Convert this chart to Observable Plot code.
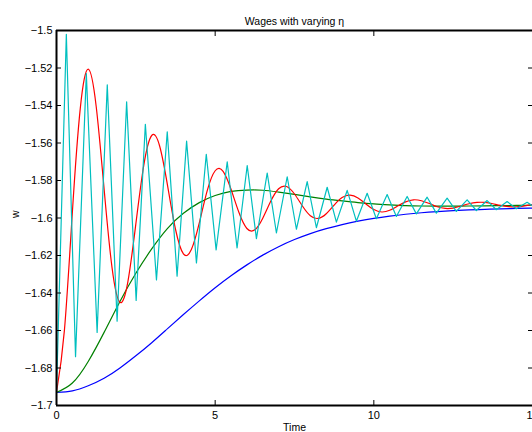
<!DOCTYPE html>
<html><head><meta charset="utf-8">
<script src="https://cdn.jsdelivr.net/npm/d3@7"></script>
<script src="https://cdn.jsdelivr.net/npm/@observablehq/plot@0.6"></script>
<style>body{margin:0;background:#fff;overflow:hidden} svg{display:block}</style>
</head><body><div id="chart"></div>
<script>
const title = "Wages with varying \u03b7";
const xLabel = "Time";
const yLabel = "w";
const xTicks = [0, 5, 10, 15];
const yTicks = [-1.5, -1.52, -1.54, -1.56, -1.58, -1.6, -1.62, -1.64, -1.66, -1.68, -1.7];
const yTickLabels = ["\u22121.5", "\u22121.52", "\u22121.54", "\u22121.56", "\u22121.58", "\u22121.6", "\u22121.62", "\u22121.64", "\u22121.66", "\u22121.68", "\u22121.7"];

// blue series
const blueT = [0,0.5,1,1.5,2,2.5,3,3.5,4,4.5,5,5.5,6,6.5,7,7.5,8,8.5,9,9.5,10,10.5,11,11.5,12,12.5,13,13.5,14,14.5,15];
const blueV = [-1.693,-1.6922,-1.6895,-1.6855,-1.680,-1.6735,-1.6665,-1.659,-1.6515,-1.6442,-1.6372,-1.6308,-1.625,-1.6198,-1.6153,-1.6115,-1.6083,-1.6057,-1.6035,-1.6017,-1.6002,-1.599,-1.598,-1.5972,-1.5966,-1.5961,-1.5957,-1.5954,-1.5951,-1.5949,-1.5947];

// green series
const greenT = [0,0.5,1,1.5,2,2.5,3,3.5,4,4.5,5,5.5,6,6.5,7,7.5,8,8.5,9,9.5,10,10.5,11,11.5,12,12.5,13,13.5,14,14.5,15];
const greenV = [-1.693,-1.688,-1.6765,-1.661,-1.6445,-1.6295,-1.6165,-1.6055,-1.5975,-1.5918,-1.588,-1.5858,-1.5851,-1.5852,-1.5862,-1.5874,-1.5887,-1.5899,-1.5909,-1.5918,-1.5925,-1.593,-1.5934,-1.5936,-1.5937,-1.5937,-1.5936,-1.5935,-1.5934,-1.5933,-1.5932];

// red series
const redT = [0,0.25,0.5,0.75,1,1.25,1.5,1.75,2,2.25,2.5,2.75,3,3.25,3.5,3.75,4,4.25,4.5,4.75,5,5.25,5.5,5.75,6,6.25,6.5,6.75,7,7.25,7.5,7.75,8,8.25,8.5,8.75,9,9.25,9.5,9.75,10,10.25,10.5,10.75,11,11.25,11.5,11.75,12,12.25,12.5,12.75,13,13.25,13.5,13.75,14,14.25,14.5,14.75,15];
const redV = [-1.693,-1.6598,-1.5969,-1.5414,-1.5206,-1.5404,-1.5845,-1.6265,-1.645,-1.6339,-1.6032,-1.5719,-1.556,-1.5616,-1.5827,-1.606,-1.6191,-1.6168,-1.6026,-1.5854,-1.5748,-1.5751,-1.5847,-1.5971,-1.6056,-1.6063,-1.6001,-1.5911,-1.5844,-1.5832,-1.5872,-1.5936,-1.5988,-1.6002,-1.5977,-1.5931,-1.5891,-1.5878,-1.5893,-1.5925,-1.5955,-1.5968,-1.5959,-1.5936,-1.5914,-1.5903,-1.5908,-1.5923,-1.594,-1.5949,-1.5947,-1.5936,-1.5924,-1.5917,-1.5917,-1.5924,-1.5933,-1.5939,-1.594,-1.5935,-1.5928];

// cyan series (vertices)
const cyanT = [0,0.31,0.6,0.94,1.28,1.6,1.91,2.21,2.51,2.8,3.15,3.49,3.8,4.1,4.41,4.72,5.03,5.38,5.69,6.01,6.3,6.64,6.93,7.27,7.56,7.9,8.19,8.53,8.82,9.16,9.45,9.79,10.08,10.42,10.71,11.05,11.34,11.68,11.97,12.31,12.6,12.94,13.23,13.57,13.86,14.2,14.49,14.83,15];
const cyanV = [-1.693,-1.502,-1.674,-1.523,-1.661,-1.529,-1.655,-1.538,-1.644,-1.550,-1.633,-1.554,-1.631,-1.559,-1.624,-1.566,-1.617,-1.570,-1.616,-1.572,-1.611,-1.576,-1.608,-1.578,-1.606,-1.5806,-1.6052,-1.5836,-1.6022,-1.5853,-1.6017,-1.5868,-1.6004,-1.5875,-1.5992,-1.5885,-1.5978,-1.5889,-1.5974,-1.5894,-1.5965,-1.5903,-1.596,-1.5907,-1.5956,-1.5912,-1.5951,-1.5916,-1.5935];

const seriesColors = {blue: "#0000ff", green: "#008000", red: "#ff0000", cyan: "#00bfbf"};

const rows = (T, V) => T.map((t, i) => ({t, v: V[i]}));
const font = "'Liberation Sans', Arial, Helvetica, sans-serif";

const chart = Plot.plot({
  width: 532,
  height: 432,
  marginLeft: 56,
  marginRight: 0,
  marginTop: 30,
  marginBottom: 27,
  style: {fontFamily: font, fontSize: "11px", background: "#fff", color: "#000"},
  x: {domain: [xTicks[0], xTicks[xTicks.length - 1]]},
  y: {domain: [yTicks[yTicks.length - 1], yTicks[0]]},
  marks: [
    Plot.line(rows(blueT, blueV), {x: "t", y: "v", stroke: seriesColors.blue, strokeWidth: 1.2, curve: "natural", clip: true}),
    Plot.line(rows(greenT, greenV), {x: "t", y: "v", stroke: seriesColors.green, strokeWidth: 1.2, curve: "natural", clip: true}),
    Plot.line(rows(redT, redV), {x: "t", y: "v", stroke: seriesColors.red, strokeWidth: 1.2, curve: "natural", clip: true}),
    Plot.line(rows(cyanT, cyanV), {x: "t", y: "v", stroke: seriesColors.cyan, strokeWidth: 1.2, clip: true}),
    Plot.ruleX([xTicks[0]], {stroke: "#000", strokeWidth: 2}),
    Plot.ruleY([yTicks[0]], {stroke: "#000", strokeWidth: 2}),
    Plot.ruleY([yTicks[yTicks.length - 1]], {stroke: "#000", strokeWidth: 2}),
    Plot.axisX(xTicks, {anchor: "bottom", tickSize: -5, tickPadding: 11, label: null, fontSize: 11}),
    Plot.axisX(xTicks, {anchor: "top", tickSize: -5, tickFormat: () => "", label: null}),
    Plot.axisY(yTicks, {anchor: "left", tickSize: -5, tickPadding: 9, label: null, fontSize: 11, tickFormat: (d, i) => yTickLabels[i]}),
    Plot.axisY(yTicks, {anchor: "right", tickSize: -5, tickFormat: () => "", label: null}),
    Plot.text([title], {frameAnchor: "top", dy: -13, fontSize: 10.5, fill: "#000"}),
    Plot.text([xLabel], {frameAnchor: "bottom", dy: 25, fontSize: 10.5, fill: "#000"}),
    Plot.text([yLabel], {frameAnchor: "left", dx: -41, rotate: -90, fontSize: 10.5, fill: "#000"})
  ]
});
document.getElementById("chart").append(chart);
</script>
</body></html>
